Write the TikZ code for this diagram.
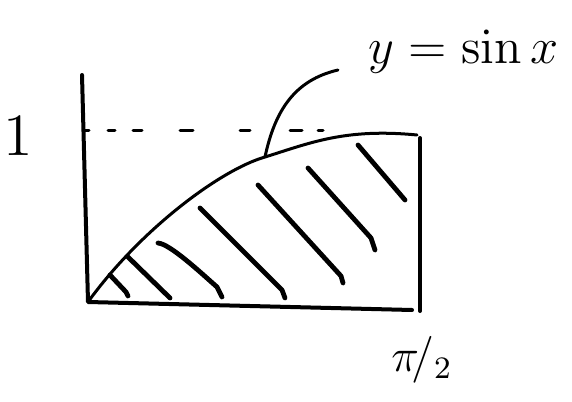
\documentclass[tikz,border=0pt]{standalone}
\usepackage{amsmath}
\begin{document}
\begin{tikzpicture}[x=1pt,y=-1pt,line cap=round,line join=round,
  axisline/.style={line width=4pt},
  graphline/.style={line width=3pt},
  hatchline/.style={line width=4.8pt},
  dashline/.style={line width=3pt},
  bigtext/.style={inner sep=0pt,font=\large}]
\useasboundingbox (0,0) rectangle (572,401);
% axes and box
\coordinate (O) at (88,302);
\coordinate (Ytop) at (82,75);
\coordinate (Bend) at (412,310);
\coordinate (Rtop) at (420,138);
\coordinate (Rbot) at (420,311);
\draw[axisline] (Ytop) -- (O) -- (Bend);
\draw[axisline] (Rtop) -- (Rbot);
% dashed level y=1
\foreach \a/\b in {85/89,108/115,133/142,180/193,240/250,290/302,318/323}
  \draw[dashline] (\a,130) -- (\b,130);
% curve y = sin x
\coordinate (P) at (265,157);
\coordinate (E) at (417,135);
\draw[graphline] (O) .. controls (140,230) and (220,170) .. (P)
  .. controls (310,143) and (345,128) .. (E);
% hatching
\draw[hatchline] (110,275) -- (126,292) -- (128,296);
\draw[hatchline] (128,257) -- (170,298);
\draw[hatchline] (158,243) .. controls (170,244) and (200,272) .. (217,287) -- (222,297);
\draw[hatchline] (200,208) -- (282,290) -- (285,298);
\draw[hatchline] (258,185) -- (341,276) -- (343,283);
\draw[hatchline] (308,168) -- (371,238) -- (375,250);
\draw[hatchline] (358,145) -- (405,200);
% labels
\node[bigtext,scale=5] (one) at (18,136) {1};
\node[bigtext,scale=4.2,anchor=base west] (lab) at (368,64) {$y=\sin x$};
\node[bigtext,scale=3.9] (half) at (422,360) {$\pi\!/_{2}$};
% pointer
\coordinate (Q) at (338,70);
\draw[graphline] (P) .. controls (275,110) and (295,80) .. (Q);
\end{tikzpicture}
\end{document}
